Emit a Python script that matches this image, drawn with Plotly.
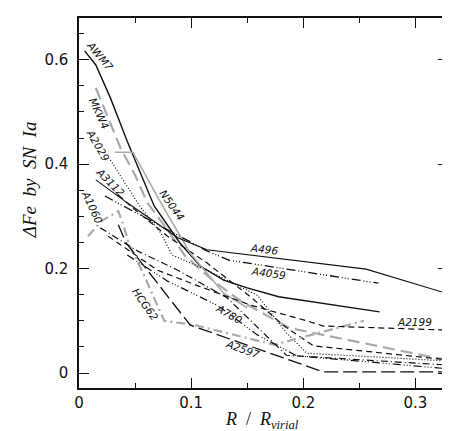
import plotly.graph_objects as go

# R/Rvir and Delta Fe (SN Ia), one pair per cluster
awm7_r = [0.005, 0.015, 0.028, 0.043, 0.067, 0.090, 0.108, 0.129, 0.150, 0.178, 0.268]
awm7_fe = [0.617, 0.590, 0.527, 0.444, 0.320, 0.249, 0.205, 0.178, 0.163, 0.146, 0.117]

mkw4_r = [0.015, 0.026, 0.037, 0.050, 0.061, 0.079, 0.094, 0.119, 0.144, 0.188, 0.327]
mkw4_fe = [0.546, 0.489, 0.431, 0.379, 0.326, 0.274, 0.226, 0.178, 0.138, 0.086, 0.025]

a2029_r = [0.028, 0.054, 0.073, 0.083, 0.114, 0.159, 0.185, 0.203, 0.329]
a2029_fe = [0.408, 0.320, 0.268, 0.226, 0.197, 0.149, 0.077, 0.038, 0.023]

a3112_r = [0.035, 0.048, 0.079, 0.114, 0.154, 0.183, 0.209, 0.330]
a3112_fe = [0.341, 0.316, 0.262, 0.211, 0.144, 0.090, 0.052, 0.025]

a1060_r = [0.019, 0.052, 0.088, 0.132, 0.185, 0.330]
a1060_fe = [0.278, 0.234, 0.197, 0.144, 0.034, 0.015]

n5044_r = [0.032, 0.048, 0.073, 0.099, 0.129, 0.150]
n5044_fe = [0.423, 0.423, 0.326, 0.230, 0.153, 0.125]

hcg62_r = [0.008, 0.020, 0.035, 0.039, 0.045, 0.057, 0.076, 0.103, 0.174, 0.254]
hcg62_fe = [0.262, 0.291, 0.310, 0.287, 0.245, 0.192, 0.100, 0.092, 0.054, 0.100]

a496_r = [0.015, 0.043, 0.088, 0.114, 0.256, 0.330]
a496_fe = [0.370, 0.326, 0.259, 0.236, 0.199, 0.151]

a4059_r = [0.023, 0.064, 0.114, 0.134, 0.267]
a4059_fe = [0.339, 0.291, 0.234, 0.216, 0.172]

a780_r = [0.043, 0.079, 0.123, 0.159, 0.194, 0.330]
a780_fe = [0.226, 0.176, 0.130, 0.073, 0.033, 0.008]

a2199_r = [0.026, 0.070, 0.106, 0.153, 0.203, 0.218, 0.330]
a2199_fe = [0.262, 0.197, 0.167, 0.130, 0.100, 0.090, 0.082]

a2597_r = [0.035, 0.042, 0.070, 0.099, 0.165, 0.218, 0.330]
a2597_fe = [0.284, 0.249, 0.172, 0.092, 0.042, 0.002, 0.002]

# label text, position and rotation
label_text = ["AWM7", "MKW4", "A2029", "A3112", "A1060", "N5044", "HCG62",
              "A780", "A2597", "A496", "A4059", "A2199"]
label_r = [0.019, 0.018, 0.017, 0.028, 0.012, 0.083, 0.059, 0.134, 0.146, 0.165, 0.169, 0.299]
label_fe = [0.607, 0.498, 0.437, 0.366, 0.318, 0.322, 0.132, 0.113, 0.046, 0.238, 0.192, 0.098]
label_angle = [50, 65, 60, 45, 65, 55, 55, 30, 20, 7, 8, 0]

BLACK = "#111111"
GRAY = "#aaaaaa"

series = [
    (awm7_r, awm7_fe, BLACK, 1.4, "solid"),
    (mkw4_r, mkw4_fe, GRAY, 2.2, "12px,6px"),
    (a2029_r, a2029_fe, BLACK, 1.2, "1px,2px"),
    (a3112_r, a3112_fe, BLACK, 1.2, "6px,4px"),
    (a1060_r, a1060_fe, BLACK, 1.2, "7px,3px,1px,3px"),
    (n5044_r, n5044_fe, GRAY, 1.6, "solid"),
    (hcg62_r, hcg62_fe, GRAY, 2.2, "9px,4px,2px,4px"),
    (a496_r, a496_fe, BLACK, 1.1, "solid"),
    (a4059_r, a4059_fe, BLACK, 1.3, "9px,3px,1px,2px,1px,2px,1px,3px"),
    (a780_r, a780_fe, BLACK, 1.2, "8px,3px,1px,2px,1px,2px,1px,3px"),
    (a2199_r, a2199_fe, BLACK, 1.2, "6px,4px"),
    (a2597_r, a2597_fe, BLACK, 1.3, "14px,5px"),
]

fig = go.Figure()
for r, fe, color, width, dash in series:
    fig.add_trace(go.Scatter(x=r, y=fe, mode="lines",
                             line=dict(color=color, width=width, dash=dash),
                             showlegend=False))

for text, r, fe, ang in zip(label_text, label_r, label_fe, label_angle):
    fig.add_annotation(x=r, y=fe, text="<i>" + text + "</i>", showarrow=False,
                       textangle=ang, xanchor="center", yanchor="middle",
                       font=dict(family="DejaVu Sans", size=10.5, color=BLACK))

# axis titles placed as annotations
fig.add_annotation(xref="paper", yref="paper", x=-0.135, y=0.562,
                   xanchor="center", yanchor="middle",
                   text="<i>ΔFe  by  SN  Ia</i>", showarrow=False, textangle=-90,
                   font=dict(family="Liberation Serif", size=19, color=BLACK))
fig.add_annotation(xref="paper", yref="paper", x=0.496, y=-0.088,
                   xanchor="center", yanchor="middle",
                   text="<i>R</i>  /  <i>R</i><sub><i>virial</i></sub>", showarrow=False,
                   font=dict(family="Liberation Serif", size=18, color=BLACK))

axis_common = dict(showgrid=False, zeroline=False, showline=True, linecolor=BLACK,
                   linewidth=1.5, mirror="ticks", ticks="inside", ticklen=10,
                   tickwidth=1, tickcolor=BLACK,
                   tickfont=dict(family="DejaVu Sans", size=15, color=BLACK))

fig.update_xaxes(range=[0, 0.329], tickvals=[0, 0.1, 0.2, 0.3], ticktext=["0", "0.1", "0.2", "0.3"],
                 ticklabelstandoff=0,
                 minor=dict(ticks="inside", ticklen=5, tickcolor=BLACK, dtick=0.05, tick0=0),
                 **axis_common)
fig.update_yaxes(range=[-0.0287, 0.680], tickvals=[0, 0.2, 0.4, 0.6], ticktext=["0", "0.2", "0.4", "0.6"],
                 ticklabelstandoff=6,
                 minor=dict(ticks="inside", ticklen=5, tickcolor=BLACK, dtick=0.05, tick0=0),
                 **axis_common)

fig.update_layout(width=450, height=431, margin=dict(l=71, r=8, t=10, b=51),
                  plot_bgcolor="white", paper_bgcolor="white")

fig.write_html("out.html")
